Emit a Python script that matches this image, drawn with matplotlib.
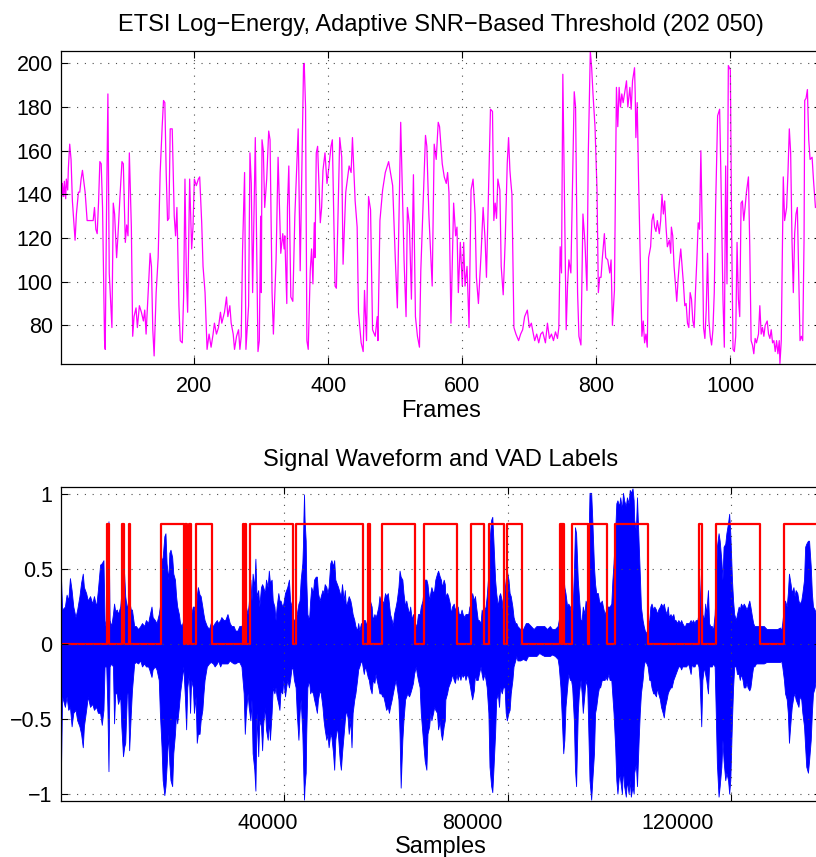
import matplotlib
matplotlib.use("Agg")
import matplotlib.pyplot as plt
import numpy as np

# --- log-energy per frame ---
energy_frame = [1, 2, 3, 5, 6, 8, 9, 11, 12, 14, 16, 18, 22, 24, 27, 29, 31, 33, 37, 40, 42, 46, 49, 51, 53, 55, 57, 59, 61, 63,
                66, 67, 69, 71, 73, 77, 79, 81, 84, 86, 89, 92, 94, 97, 99, 101, 103, 106, 108, 110, 113, 115, 118, 121, 124, 126, 128, 131, 134, 136,
                138, 140, 143, 146, 149, 152, 154, 156, 158, 160, 162, 164, 167, 170, 172, 174, 177, 179, 182, 184, 186, 188, 190, 193, 196, 198, 200, 203, 206, 208,
                211, 213, 216, 219, 222, 225, 228, 230, 233, 236, 239, 241, 245, 248, 250, 253, 255, 258, 260, 263, 266, 268, 270, 272, 275,
                277, 281, 283, 285, 287, 291, 295, 297, 299, 300, 301, 303, 305, 308, 311, 313, 316, 318, 322, 325, 329, 332, 334, 335, 338, 339, 341, 344, 347, 350,
                355, 358, 363, 364, 366, 368, 370, 373, 375, 377, 379, 380, 382, 384, 388, 390, 392, 395, 398, 401, 404, 406, 410, 412, 417, 420, 422, 426, 431, 434,
                436, 440, 443, 445, 449, 452, 454, 457, 460, 463, 466, 470, 473, 474, 477, 481, 485, 490, 496, 500, 503, 508, 513, 516, 518, 521, 524, 527, 530, 533,
                536, 538, 545, 547, 550, 555, 558, 561, 564, 566, 570, 573,
                576, 578, 580, 583, 587, 590, 592, 594, 597, 600, 602, 604, 607, 610, 613, 616, 619, 621, 624, 628, 631, 634, 636, 639, 642, 645, 647, 649, 651, 653,
                656, 658, 661, 664, 667, 669, 671, 672, 674, 677, 680, 684, 687, 690, 693, 697, 700, 703, 706, 708, 711, 714, 717, 720, 724, 727, 730, 733, 736, 739,
                742, 744, 746, 748, 750, 752, 755, 757, 759, 762, 765, 767, 769, 772, 774, 777, 780, 783, 786, 788, 791, 793, 795, 798, 801, 803, 805, 807, 809, 812,
                814, 817, 820, 822, 824, 827, 830, 832, 834, 836, 838, 840, 843, 845, 847, 850, 852, 854, 857,
                858, 859, 861, 863, 865, 868, 870, 872, 874, 876, 878, 881, 883, 885, 887, 889, 891, 894, 896, 898, 900, 902, 904, 906, 909, 911, 912, 914, 916, 918,
                920, 922, 924, 926, 928, 930, 932, 934, 936, 938, 940, 942, 944, 946, 948, 950, 952, 954, 956, 958, 960, 962, 964, 966, 968, 970, 972, 974, 976, 978,
                981, 984, 986, 989, 991, 993, 995, 997, 1000, 1002, 1004, 1006, 1008, 1010, 1012, 1014, 1016, 1018, 1020, 1022, 1024, 1027, 1029, 1031, 1033, 1035, 1037, 1039, 1042, 1044,
                1046, 1048, 1050, 1052, 1055, 1057, 1059, 1061, 1063, 1065, 1067, 1069, 1071, 1073, 1074, 1076, 1079, 1081, 1084, 1086, 1088, 1090, 1092, 1094, 1096, 1098, 1100, 1102, 1104, 1106,
                1108, 1110, 1111, 1113, 1115, 1117, 1119, 1122, 1124, 1127]
energy_val = [166, 139, 145, 139, 146, 138, 147, 142, 152, 163, 156, 137, 119, 131, 141, 141, 147, 151, 141, 128, 128, 128, 128, 134, 124, 122, 136, 155, 154, 134,
              73, 69, 134, 186, 104, 79, 136, 131, 111, 121, 139, 155, 154, 118, 126, 121, 159, 125, 75, 84, 88, 79, 89, 86, 82, 87, 76, 95, 113, 107,
              78, 66, 95, 111, 150, 171, 183, 182, 150, 128, 129, 170, 170, 130, 121, 134, 89, 73, 72, 93, 147, 104, 86, 147, 115, 125, 147, 144, 147, 148,
              127, 107, 95, 69, 76, 70, 76, 81, 76, 79, 86, 81, 86, 93, 84, 89, 81, 76, 69, 75, 78, 69, 75, 115, 150,
              69, 89, 159, 145, 95, 166, 68, 73, 130, 95, 165, 160, 134, 147, 169, 165, 95, 76, 110, 157, 113, 122, 115, 121, 90, 134, 153, 93, 91, 130,
              170, 105, 199, 200, 180, 73, 69, 105, 115, 99, 127, 111, 159, 162, 127, 134, 151, 159, 145, 153, 162, 165, 98, 97, 166, 157, 108, 141, 153, 150,
              166, 137, 125, 86, 72, 68, 96, 73, 139, 133, 78, 75, 84, 73, 128, 142, 150, 155, 144, 110, 88, 173, 110, 84, 134, 126, 92, 149, 84, 75,
              70, 105, 167, 162, 131, 98, 163, 156, 173, 171, 154, 148,
              145, 150, 141, 81, 136, 121, 125, 95, 118, 98, 118, 98, 107, 79, 142, 147, 131, 102, 90, 113, 134, 119, 102, 141, 179, 178, 128, 136, 129, 147,
              142, 107, 94, 119, 154, 166, 151, 147, 140, 79, 76, 73, 76, 78, 84, 87, 79, 81, 76, 73, 76, 72, 76, 77, 72, 81, 74, 76, 73, 77,
              74, 79, 116, 104, 195, 147, 78, 98, 110, 104, 153, 187, 180, 95, 75, 71, 131, 118, 96, 159, 205.5, 198, 186, 171, 142, 95, 102, 102, 111, 122,
              111, 110, 104, 110, 80, 96, 189, 171, 189, 180, 186, 182, 188, 192, 180, 189, 179, 192, 198,
              186, 166, 182, 147, 119, 75, 82, 72, 76, 70, 111, 116, 128, 131, 125, 123, 128, 122, 128, 140, 131, 137, 125, 116, 119, 113, 125, 121, 107, 99,
              91, 101, 109, 115, 107, 99, 89, 90, 81, 79, 95, 92, 82, 79, 96, 110, 127, 124, 160, 125, 79, 74, 87, 113, 82, 75, 71, 78, 95, 134,
              176, 179, 147, 92, 70, 153, 99, 199, 197, 121, 69, 68, 75, 118, 92, 84, 136, 137, 128, 134, 141, 148, 116, 73, 71, 67, 74, 72, 76, 89,
              76, 79, 75, 80, 82, 76, 74, 78, 72, 73, 68, 73, 67, 73, 62.5, 73, 148, 128, 134, 150, 170, 159, 119, 95, 122, 131, 134, 104, 73, 75,
              73, 119, 183, 184, 188, 165, 156, 157, 147, 134]

# --- waveform envelope (upper / lower), sample index ---
wave_s = [0, 200, 700, 1000, 1300, 1600, 1900, 2200, 2600, 2900, 3300, 3600, 3900, 4100, 4500, 4800, 5200, 5600, 5900, 6300,
          6600, 7000, 7300, 7600, 7800, 8100, 8300, 8500, 8700, 9000, 9300, 9500, 9700, 10000, 10200, 10600, 10800, 11100, 11300, 11500,
          11800, 12000, 12200, 12500, 12700, 13100, 13400, 13800, 14200, 14500, 14900, 15200, 15600, 15800, 16200, 16400, 16800, 17100, 17500, 17700,
          18000, 18200, 18500, 18700, 18900, 19200, 19400, 19600, 19900, 20100, 20400, 20600, 20800, 21100, 21300, 21600, 21900, 22200, 22400, 22600,
          22900, 23100, 23300, 23600, 23800, 24100, 24300, 24500, 24800, 25000, 25300, 25500, 25700, 26100, 26500, 26800, 27200, 27500, 27900, 28100,
          28500, 28700, 29100, 29400, 29800, 30200, 30500, 30900, 31200, 31600, 31900, 32300, 32700,
          32900, 33100, 33400, 33600, 33900, 34100, 34300, 34600, 34800, 35000, 35300, 35500, 35800, 36000, 36200, 36500, 36700, 37000, 37200, 37400,
          37700, 37900, 38200, 38400, 38600, 38900, 39100, 39300, 39600, 39800, 40100, 40300, 40500, 40800, 41000, 41300, 41500, 41700, 42000, 42200,
          42500, 42700, 42900, 43200, 43300, 43400, 43500, 43600, 43800, 43900, 44100, 44400, 44600, 44800, 45100, 45300, 45600, 45800, 46000, 46300,
          46500, 46800, 47000, 47200, 47500, 47700, 47900, 48200, 48400, 48700, 48900, 49100, 49400, 49600, 49900, 50100, 50300, 50600, 50800, 51000,
          51300, 51500, 51800, 52000, 52200, 52500, 52700, 53000, 53200, 53400, 53700, 53900, 54200, 54400, 54600, 54900, 55100, 55300, 55600, 55800,
          56100, 56300, 56500, 56800, 57000, 57300, 57500, 57700, 58000, 58200, 58500, 58700, 58900, 59200, 59400, 59600, 59900, 60100, 60400, 60600,
          60800, 61100, 61300, 61600, 61800, 62000, 62300, 62500, 62800, 63000, 63200, 63500, 63700, 63900, 64200, 64400, 64700, 64900, 65100, 65400,
          65600, 65900, 66100, 66300, 66600, 66800, 67000, 67300, 67500, 67800, 68000, 68200, 68500, 68700,
          68800, 69100, 69300, 69600, 69800, 70000, 70300, 70500, 70800, 71000, 71200, 71500, 71700, 71900, 72200, 72400, 72700, 72900, 73100, 73400,
          73600, 73900, 74100, 74300, 74600, 74800, 75100, 75300, 75500, 75800, 76000, 76200, 76500, 76700, 77000, 77200, 77400, 77700, 77900, 78200,
          78400, 78600, 78900, 79100, 79400, 79600, 79800, 80100, 80300, 80500, 80800, 81000, 81300, 81500,
          81700, 82200, 82700, 83200, 83600, 84100, 84600, 85100, 85600, 86000, 86500, 87000, 87500, 87900, 88400, 88900,
          89100, 89400, 89600, 89900, 90100, 90300, 90600, 90800, 91100, 91300, 91500, 91800, 92000, 92200, 92500, 92700, 93000, 93200, 93400, 93700,
          93900, 94200, 94400, 94600, 94900, 95100, 95400, 95600, 95800, 96100, 96300, 96500, 96800, 97000, 97300, 97500, 97700, 98000, 98200, 98500,
          98700, 98900, 99200, 99400, 99600, 99900, 100100, 100400, 100600, 100800, 101100, 101300, 101600, 101800, 102000, 102300, 102500,
          102600, 102900, 103100, 103400, 103600, 103800, 104100, 104300, 104500, 104800, 105000, 105300, 105500, 105700, 106000, 106200, 106500, 106700, 106900, 107200,
          107400, 107700, 107900, 108100, 108400, 108600, 108800, 109100, 109300, 109600, 109800, 110000, 110300, 110500, 110800, 111000, 111200, 111500, 111700, 111900,
          112200, 112400, 112700, 112900, 113100, 113400, 113600, 113900, 114100, 114300, 114600, 114800, 115100, 115300, 115500, 115800, 116000, 116200, 116500, 116700,
          117000, 117200, 117400, 117700, 117900, 118200, 118400, 118600, 118900, 119100, 119400, 119600, 119800, 120100, 120300, 120500, 120800, 121000, 121300, 121500,
          121700, 122000, 122200, 122500, 122700, 122900, 123200, 123400, 123700, 123900,
          124100, 124400, 124800, 125300, 125800, 126300, 126800, 127200, 127700, 128200, 128700,
          128900, 129100, 129400, 129600, 129900, 130100, 130300, 130600, 130800, 131100, 131300, 131500, 131800, 132000, 132200, 132500, 132700, 133000, 133200, 133400,
          133700, 133900, 134200, 134400, 134600, 134900, 135100]
wave_hi = [0.44, 0.23, 0.25, 0.33, 0.29, 0.44, 0.36, 0.25, 0.18, 0.23, 0.32, 0.41, 0.47, 0.38, 0.34, 0.29, 0.32, 0.27, 0.32, 0.25,
           0.36, 0.53, 0.54, 0.56, 0.16, 0.09, 0.20, 0.82, 0.16, 0.12, 0.20, 0.27, 0.22, 0.23, 0.20, 0.25, 0.34, 0.38, 0.47, 0.32,
           0.23, 0.29, 0.29, 0.23, 0.23, 0.12, 0.12, 0.10, 0.12, 0.14, 0.12, 0.16, 0.14, 0.18, 0.25, 0.18, 0.16, 0.14, 0.20, 0.25,
           0.56, 0.58, 0.72, 0.74, 0.54, 0.43, 0.61, 0.63, 0.58, 0.47, 0.43, 0.32, 0.25, 0.20, 0.14, 0.12, 0.16, 0.20, 0.16, 0.18,
           0.16, 0.16, 0.20, 0.25, 0.25, 0.16, 0.32, 0.38, 0.33, 0.32, 0.25, 0.20, 0.16, 0.12, 0.10, 0.14, 0.12, 0.14, 0.16, 0.14,
           0.16, 0.18, 0.16, 0.16, 0.20, 0.14, 0.12, 0.12, 0.09, 0.09, 0.12, 0.12, 0.16,
           0.36, 0.25, 0.20, 0.27, 0.43, 0.29, 0.47, 0.38, 0.57, 0.32, 0.36, 0.25, 0.38, 0.40, 0.38, 0.34, 0.43, 0.38, 0.49, 0.41,
           0.43, 0.29, 0.25, 0.16, 0.25, 0.34, 0.29, 0.29, 0.25, 0.27, 0.34, 0.36, 0.38, 0.43, 0.29, 0.25, 0.16, 0.16, 0.18, 0.20,
           0.27, 0.29, 0.43, 0.54, 0.65, 0.85, 1.00, 0.83, 0.69, 0.43, 0.20, 0.16, 0.29, 0.38, 0.34, 0.43, 0.45, 0.45, 0.34, 0.29,
           0.32, 0.36, 0.34, 0.40, 0.38, 0.34, 0.38, 0.54, 0.56, 0.52, 0.56, 0.43, 0.40, 0.38, 0.34, 0.32, 0.40, 0.29, 0.36, 0.25,
           0.29, 0.32, 0.29, 0.25, 0.20, 0.16, 0.12, 0.09, 0.14, 0.09, 0.14, 0.12, 0.16, 0.16, 0.12, 0.20, 0.25, 0.29, 0.25, 0.16,
           0.20, 0.18, 0.20, 0.25, 0.32, 0.27, 0.29, 0.27, 0.34, 0.32, 0.34, 0.27, 0.20, 0.16, 0.12, 0.20, 0.25, 0.29, 0.38, 0.49,
           0.45, 0.43, 0.34, 0.25, 0.29, 0.25, 0.20, 0.25, 0.16, 0.20, 0.12, 0.12, 0.14, 0.20, 0.20, 0.25, 0.29, 0.36, 0.43, 0.43,
           0.40, 0.29, 0.34, 0.38, 0.34, 0.36, 0.43, 0.47, 0.49, 0.45, 0.43, 0.38, 0.43, 0.40,
           0.32, 0.34, 0.32, 0.27, 0.20, 0.25, 0.27, 0.23, 0.25, 0.25, 0.20, 0.20, 0.23, 0.20, 0.18, 0.20, 0.20, 0.20, 0.25, 0.27,
           0.34, 0.29, 0.32, 0.25, 0.16, 0.16, 0.14, 0.23, 0.20, 0.23, 0.25, 0.32, 0.47, 0.69, 0.83, 0.85, 0.69, 0.43, 0.34, 0.25,
           0.32, 0.34, 0.29, 0.20, 0.36, 0.43, 0.49, 0.43, 0.34, 0.32, 0.25, 0.18, 0.14, 0.14,
           0.12, 0.10, 0.10, 0.14, 0.14, 0.12, 0.10, 0.12, 0.12, 0.12, 0.12, 0.10, 0.12, 0.10, 0.10, 0.12,
           0.16, 0.25, 0.43, 0.47, 0.38, 0.34, 0.25, 0.27, 0.25, 0.20, 0.16, 0.47, 0.78, 0.74, 0.43, 0.32, 0.16, 0.16, 0.25, 0.20,
           0.29, 0.25, 0.65, 1.01, 1.01, 0.83, 0.52, 0.40, 0.34, 0.34, 0.29, 0.27, 0.29, 0.25, 0.20, 0.22, 0.25, 0.25, 0.25, 0.27,
           0.43, 0.54, 0.76, 0.94, 0.96, 0.92, 0.98, 0.90, 1.01, 0.96, 0.92, 0.98, 0.94, 1.03, 1.01, 1.04, 0.96,
           0.83, 0.76, 0.98, 0.67, 0.47, 0.25, 0.16, 0.12, 0.09, 0.07, 0.12, 0.16, 0.25, 0.27, 0.23, 0.25, 0.23, 0.20, 0.23, 0.25,
           0.27, 0.25, 0.27, 0.23, 0.20, 0.25, 0.18, 0.20, 0.18, 0.20, 0.16, 0.16, 0.14, 0.16, 0.14, 0.16, 0.14, 0.12, 0.12, 0.14,
           0.14, 0.14, 0.16, 0.14, 0.16, 0.14, 0.16, 0.16, 0.20, 0.25, 0.52, 0.20, 0.16, 0.27, 0.20, 0.36, 0.14, 0.12, 0.12, 0.09,
           0.20, 0.38, 0.65, 0.74, 0.69, 0.56, 0.43, 0.65, 0.67, 0.74, 0.81, 0.87, 0.74, 0.43, 0.29, 0.20, 0.16, 0.20, 0.25, 0.23,
           0.27, 0.25, 0.27, 0.25, 0.23, 0.25, 0.29, 0.25, 0.18, 0.14,
           0.12, 0.12, 0.12, 0.12, 0.12, 0.10, 0.10, 0.10, 0.10, 0.10, 0.11,
           0.09, 0.14, 0.25, 0.29, 0.25, 0.34, 0.47, 0.40, 0.34, 0.38, 0.32, 0.36, 0.34, 0.29, 0.27, 0.29, 0.34, 0.43, 0.65, 0.67,
           0.69, 0.69, 0.52, 0.34, 0.25, 0.23, 0.20]
wave_lo = [-0.83, -0.35, -0.42, -0.35, -0.44, -0.42, -0.55, -0.46, -0.44, -0.51, -0.55, -0.60, -0.69, -0.55, -0.44, -0.35, -0.42, -0.40, -0.44, -0.42,
           -0.46, -0.46, -0.54, -0.44, -0.15, -0.15, -0.42, -0.85, -0.15, -0.13, -0.15, -0.53, -0.33, -0.33, -0.40, -0.35, -0.55, -0.75, -0.69, -0.66,
           -0.33, -0.33, -0.71, -0.46, -0.31, -0.13, -0.12, -0.13, -0.11, -0.15, -0.13, -0.15, -0.15, -0.17, -0.22, -0.17, -0.15, -0.17, -0.24, -0.46,
           -0.69, -0.91, -1.01, -0.95, -0.82, -0.60, -0.80, -0.91, -0.95, -0.73, -0.60, -0.46, -0.53, -0.42, -0.33, -0.24, -0.15, -0.37, -0.57, -0.29,
           -0.20, -0.46, -0.24, -0.29, -0.46, -0.35, -0.66, -0.60, -0.60, -0.51, -0.44, -0.33, -0.24, -0.15, -0.13, -0.12, -0.13, -0.15, -0.13, -0.11,
           -0.15, -0.13, -0.13, -0.13, -0.13, -0.11, -0.12, -0.13, -0.13, -0.12, -0.12, -0.15, -0.33,
           -0.60, -0.46, -0.33, -0.42, -0.51, -0.37, -0.73, -0.84, -0.98, -0.46, -0.75, -0.51, -0.55, -0.71, -0.53, -0.42, -0.57, -0.64, -0.51, -0.64,
           -0.46, -0.29, -0.33, -0.29, -0.35, -0.40, -0.44, -0.31, -0.33, -0.24, -0.35, -0.29, -0.24, -0.29, -0.24, -0.15, -0.17, -0.24, -0.29, -0.46,
           -0.64, -0.46, -0.37, -0.60, -0.75, -0.91, -1.04, -0.95, -0.86, -0.60, -0.29, -0.24, -0.33, -0.31, -0.33, -0.37, -0.42, -0.46, -0.37, -0.31,
           -0.33, -0.42, -0.51, -0.57, -0.64, -0.60, -0.69, -0.60, -0.62, -0.73, -0.84, -0.64, -0.55, -0.62, -0.78, -0.84, -0.73, -0.60, -0.51, -0.44,
           -0.49, -0.60, -0.51, -0.69, -0.46, -0.37, -0.33, -0.24, -0.17, -0.15, -0.11, -0.13, -0.20, -0.15, -0.17, -0.22, -0.24, -0.29, -0.33, -0.24,
           -0.26, -0.20, -0.24, -0.29, -0.33, -0.33, -0.35, -0.35, -0.40, -0.44, -0.42, -0.46, -0.42, -0.37, -0.33, -0.29, -0.24, -0.29, -0.37, -0.60,
           -0.96, -0.64, -0.51, -0.37, -0.35, -0.33, -0.35, -0.33, -0.29, -0.26, -0.20, -0.15, -0.20, -0.24, -0.29, -0.46, -0.60, -0.69, -0.78, -0.84,
           -0.60, -0.55, -0.46, -0.51, -0.46, -0.42, -0.44, -0.46, -0.57, -0.51, -0.60, -0.64, -0.55, -0.51,
           -0.37, -0.33, -0.29, -0.26, -0.24, -0.20, -0.24, -0.26, -0.20, -0.24, -0.20, -0.24, -0.20, -0.22, -0.20, -0.24, -0.20, -0.22, -0.26, -0.33,
           -0.37, -0.31, -0.20, -0.24, -0.24, -0.20, -0.15, -0.20, -0.24, -0.20, -0.24, -0.29, -0.46, -0.82, -0.95, -0.99, -0.84, -0.60, -0.37, -0.33,
           -0.42, -0.29, -0.33, -0.29, -0.29, -0.46, -0.51, -0.46, -0.44, -0.33, -0.24, -0.15, -0.11, -0.08,
           -0.11, -0.11, -0.10, -0.11, -0.08, -0.08, -0.08, -0.08, -0.06, -0.07, -0.08, -0.08, -0.08, -0.07, -0.08, -0.10,
           -0.15, -0.29, -0.46, -0.73, -0.64, -0.42, -0.29, -0.20, -0.24, -0.24, -0.29, -0.51, -0.84, -0.95, -0.46, -0.33, -0.24, -0.33, -0.46, -0.33,
           -0.24, -0.29, -0.60, -0.91, -1.04, -0.91, -0.73, -0.46, -0.42, -0.33, -0.29, -0.29, -0.24, -0.24, -0.24, -0.22, -0.24, -0.20, -0.24, -0.24,
           -0.35, -0.46, -0.69, -0.91, -1.00, -0.86, -0.91, -1.00, -0.82, -0.95, -1.02, -0.91, -1.00, -0.91, -1.02, -0.95, -1.00,
           -0.86, -0.80, -0.95, -0.64, -0.46, -0.33, -0.24, -0.15, -0.11, -0.13, -0.15, -0.24, -0.24, -0.29, -0.33, -0.33, -0.35, -0.29, -0.33, -0.37,
           -0.42, -0.46, -0.49, -0.42, -0.37, -0.33, -0.31, -0.29, -0.29, -0.24, -0.22, -0.20, -0.17, -0.15, -0.15, -0.17, -0.15, -0.15, -0.15, -0.15,
           -0.13, -0.15, -0.20, -0.13, -0.15, -0.15, -0.13, -0.13, -0.15, -0.24, -0.55, -0.24, -0.15, -0.20, -0.24, -0.33, -0.15, -0.15, -0.15, -0.13,
           -0.15, -0.46, -0.80, -1.02, -0.95, -0.82, -0.64, -0.78, -0.91, -0.86, -0.91, -1.00, -0.91, -0.51, -0.29, -0.15, -0.15, -0.20, -0.20, -0.24,
           -0.20, -0.24, -0.29, -0.29, -0.26, -0.29, -0.31, -0.29, -0.20, -0.15,
           -0.15, -0.13, -0.13, -0.13, -0.13, -0.12, -0.12, -0.12, -0.12, -0.12, -0.12,
           -0.11, -0.15, -0.24, -0.33, -0.37, -0.46, -0.66, -0.51, -0.42, -0.35, -0.33, -0.37, -0.40, -0.42, -0.35, -0.37, -0.46, -0.55, -0.69, -0.82,
           -0.86, -0.78, -0.64, -0.46, -0.33, -0.29, -0.24]

# --- VAD decisions: speech onset / offset (samples) ---
vad_on = [8310, 10925, 12125, 17840, 22155, 22960, 24250, 32490, 32900, 33800, 41980, 54985, 57385, 64960,
          73380, 76600, 79825, 89320, 89760, 91520, 94510, 99170, 114210, 117200, 129380]
vad_off = [8630, 11355, 12430, 21975, 22567, 23355, 27080, 32810, 33170, 41550, 54090, 55290, 63350, 70815,
           75760, 79290, 82460, 89620, 90030, 94385, 97790, 105130, 114690, 125130, 136500]
VAD_LEVEL = 0.8

sample_ticks = [40000, 80000, 120000]
sample_labels = ['40000', '80000', '120000']
# in the source figure the sample labels sit a little left of their ticks
sample_label_pos = [37000, 73700, 110400]

plt.rcParams['font.family'] = ['Liberation Sans', 'DejaVu Sans']
plt.rcParams['font.size'] = 17

fig = plt.figure(figsize=(8.16, 8.57), dpi=100)
ax1 = fig.add_axes([61 / 816, 1 - 364 / 857, 759.8 / 816, 313.3 / 857])
ax2 = fig.add_axes([61 / 816, 1 - 800.7 / 857, 759.8 / 816, 314.0 / 857])

grid_kw = dict(color='0.3', linestyle=(0, (1, 6)), linewidth=0.8)


def matlab_axes(ax):
    ax.tick_params(direction='in', top=True, right=True, length=5, width=0.8, pad=8.5, labelsize=15.5)
    ax.tick_params(axis='y', pad=6)
    for sp in ax.spines.values():
        sp.set_linewidth(0.9)
    ax.grid(True, which='major', **grid_kw)
    ax.set_axisbelow(False)


# --- top: log-energy ---
ax1.plot(energy_frame, energy_val, color=(1, 0, 1), linewidth=0.9)
ax1.set_xlim(1, 1135)
ax1.set_ylim(62.3, 205.8)
ax1.set_xticks([200, 400, 600, 800, 1000])
ax1.set_yticks([80, 100, 120, 140, 160, 180, 200])
ax1.set_xlabel('Frames', labelpad=2, fontsize=17)
ax1.set_title('ETSI Log\u2212Energy, Adaptive SNR\u2212Based Threshold (202 050)', pad=14, fontsize=17)
matlab_axes(ax1)

# --- bottom: waveform + VAD ---
ax2.fill_between(wave_s, wave_lo, wave_hi, color=(0, 0, 1), linewidth=0.6)
step_x, step_y = [0], [0]
for on, off in zip(vad_on, vad_off):
    step_x += [on, on, off, off]
    step_y += [0, VAD_LEVEL, VAD_LEVEL, 0]
ax2.plot(step_x, step_y, color=(1, 0, 0), linewidth=1.6)
ax2.set_xlim(1, 136000)
ax2.set_ylim(-1.047, 1.051)
ax2.set_xticks(sample_ticks)
ax2.set_xticklabels([''] * len(sample_ticks))
ax2.set_xticks(sample_label_pos, minor=True)
ax2.set_xticklabels(sample_labels, minor=True)
ax2.set_yticks([-1, -0.5, 0, 0.5, 1])
ax2.set_yticklabels(['\u22121', '\u22120.5', '0', '0.5', '1'])
ax2.set_xlabel('Samples', labelpad=2, fontsize=17)
ax2.set_title('Signal Waveform and VAD Labels', pad=15, fontsize=17)
matlab_axes(ax2)
ax2.tick_params(axis='x', which='minor', length=0, top=False, pad=8.5, labelsize=15.5)

fig.savefig('out.png', dpi=100)
